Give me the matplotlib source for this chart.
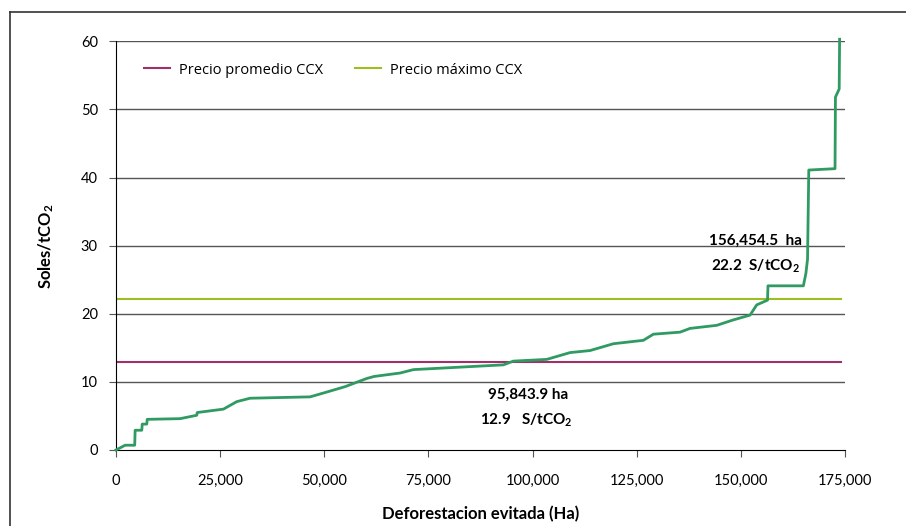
import matplotlib.pyplot as plt
from matplotlib.lines import Line2D

# datos de la curva (Ha, Soles/tCO2)
deforestacion = [0, 2200, 4500, 4600, 6200, 6300, 7400, 7500, 15400, 19400, 19500,
                 25800, 29000, 32200, 46600, 50000, 55000, 60200, 62000, 68200,
                 71400, 93000, 95400, 103400, 109000, 113800, 119400, 126600,
                 129000, 135400, 137800, 144200, 148200, 152200, 153800, 156400,
                 156500, 165000, 165600, 166000, 166300, 172600, 172700, 173600,
                 173700]
precio = [0, 0.7, 0.7, 2.9, 2.9, 3.8, 3.8, 4.5, 4.6, 5.1, 5.5,
          6.0, 7.1, 7.6, 7.8, 8.4, 9.3, 10.5, 10.8, 11.3,
          11.8, 12.5, 13.05, 13.3, 14.3, 14.6, 15.6, 16.1,
          17.0, 17.3, 17.85, 18.3, 19.1, 19.8, 21.3, 22.0,
          24.1, 24.1, 25.9, 28.0, 41.1, 41.3, 51.8, 53.0,
          60.3]

precio_promedio = 12.9
precio_maximo = 22.2
rango_x = [0, 174000]

x_ticks = [0, 25000, 50000, 75000, 100000, 125000, 150000, 175000]
y_ticks = [0, 10, 20, 30, 40, 50, 60]

verde = '#2f9a62'
morado = '#a0306a'
lima = '#9cbf1f'

plt.rcParams['font.family'] = ['Lato', 'DejaVu Sans']
plt.rcParams['mathtext.fontset'] = 'custom'
plt.rcParams['mathtext.rm'] = 'Lato:bold'
plt.rcParams['mathtext.bf'] = 'Lato:bold'
plt.rcParams['mathtext.it'] = 'Lato:bold'

fig = plt.figure(figsize=(9.06, 5.26), dpi=100)
ax = fig.add_axes([0.128, 0.1445, 0.8047, 0.777])

# marco exterior
fig.add_artist(Line2D([0.0105, 0.0105], [0, 0.977], color='#333333', lw=1.2, transform=fig.transFigure))
fig.add_artist(Line2D([0.0105, 1.0], [0.977, 0.977], color='#333333', lw=1.2, transform=fig.transFigure))

for yv in y_ticks[1:]:
    ax.axhline(yv, color='#555555', lw=1, zorder=1)

ax.plot(rango_x, [precio_promedio] * 2, color=morado, lw=1.5, label='Precio promedio CCX', zorder=2)
ax.plot(rango_x, [precio_maximo] * 2, color=lima, lw=1.5, label='Precio máximo CCX', zorder=2)
ax.plot(deforestacion, precio, color=verde, lw=2, zorder=3, clip_on=False,
        solid_joinstyle='round')

ax.set_xlim(0, 175000)
ax.set_ylim(0, 60)
ax.set_xticks(x_ticks)
ax.set_xticklabels([f'{v:,}' for v in x_ticks], fontsize=10.5)
ax.set_yticks(y_ticks)
ax.set_yticklabels([str(v) for v in y_ticks], fontsize=10.5)
ax.tick_params(axis='both', length=5, width=0.8, color='#555555')
ax.tick_params(axis='x', pad=12)
ax.tick_params(axis='y', pad=8)

ax.spines['top'].set_visible(False)
ax.spines['right'].set_visible(False)
ax.spines['left'].set_color('black')
ax.spines['bottom'].set_color('black')

ax.set_xlabel('Deforestacion evitada (Ha)', fontsize=12, fontweight='bold', labelpad=13)
ax.set_ylabel('Soles/tCO$_2$', fontsize=12, fontweight='bold', labelpad=18)

leg = ax.legend(loc='upper left', ncol=2, frameon=False,
                bbox_to_anchor=(0.02, 0.98), handlelength=1.8, handletextpad=0.6,
                columnspacing=2.2, prop={'family': 'Open Sans', 'size': 10.5})

ax.text(153500, 30.7, '156,454.5  ha', ha='center', va='center',
        fontsize=11, fontweight='bold')
ax.text(153500, 26.9, '22.2  S/tCO$_2$', ha='center', va='center',
        fontsize=11, fontweight='bold')
ax.text(99000, 8.1, '95,843.9 ha', ha='center', va='center', fontsize=11, fontweight='bold')
ax.text(98500, 4.4, '12.9   S/tCO$_2$', ha='center', va='center',
        fontsize=11, fontweight='bold')

fig.savefig('out.png', dpi=100)
